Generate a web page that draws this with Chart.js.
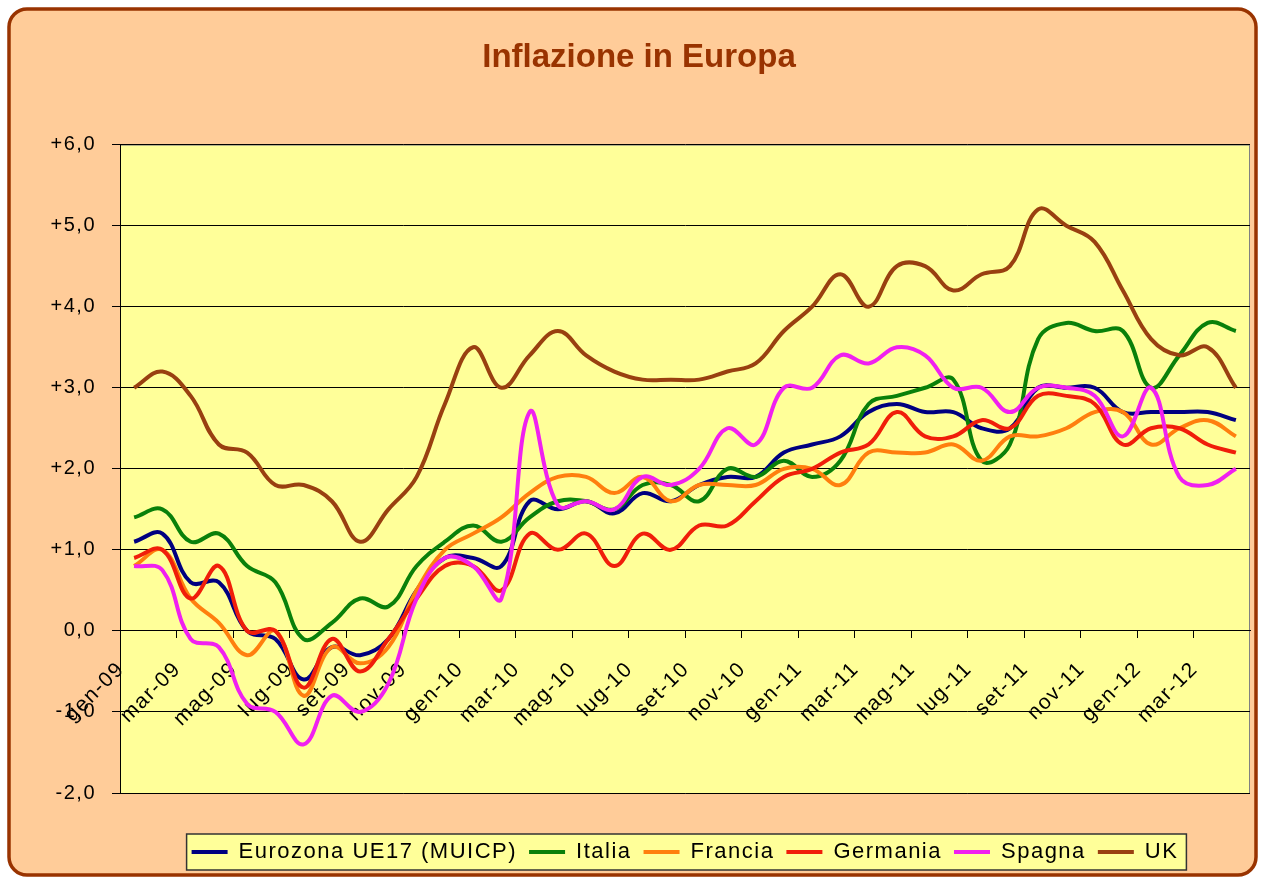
<!DOCTYPE html>
<html>
<head>
    <meta charset="utf-8">
    <title>Inflazione in Europa</title>
    <script src="https://cdn.jsdelivr.net/npm/chart.js@4"></script>
    <style>
        body { margin: 0; background: #fff; }
        canvas { display: block; }
    </style>
</head>
<body>
<canvas id="inflazione" width="1264" height="879"></canvas>

<script>
    // mesi gen-09 .. apr-12
    const mesi = ['gen-09', 'feb-09', 'mar-09', 'apr-09', 'mag-09', 'giu-09', 'lug-09', 'ago-09', 'set-09', 'ott-09', 'nov-09', 'dic-09',
        'gen-10', 'feb-10', 'mar-10', 'apr-10', 'mag-10', 'giu-10', 'lug-10', 'ago-10', 'set-10', 'ott-10', 'nov-10', 'dic-10',
        'gen-11', 'feb-11', 'mar-11', 'apr-11', 'mag-11', 'giu-11', 'lug-11', 'ago-11', 'set-11', 'ott-11', 'nov-11', 'dic-11',
        'gen-12', 'feb-12', 'mar-12', 'apr-12'];

    const eurozona = [1.1, 1.2, 0.6, 0.6, 0.0, -0.1, -0.6, -0.2, -0.3, -0.1, 0.5, 0.9,
        0.9, 0.8, 1.6, 1.5, 1.6, 1.45, 1.7, 1.6, 1.8, 1.9, 1.9, 2.2,
        2.3, 2.4, 2.7, 2.8, 2.7, 2.7, 2.5, 2.5, 3.0, 3.0, 3.0, 2.7,
        2.7, 2.7, 2.7, 2.6];
    const italia = [1.4, 1.5, 1.1, 1.2, 0.8, 0.6, -0.1, 0.1, 0.4, 0.3, 0.8, 1.1,
        1.3, 1.1, 1.4, 1.6, 1.6, 1.5, 1.8, 1.8, 1.6, 2.0, 1.9, 2.1,
        1.9, 2.1, 2.8, 2.9, 3.0, 3.1, 2.1, 2.3, 3.6, 3.8, 3.7, 3.7,
        3.0, 3.4, 3.8, 3.7];
    const francia = [0.8, 1.0, 0.4, 0.1, -0.3, 0.0, -0.8, -0.2, -0.4, -0.2, 0.5, 1.0,
        1.2, 1.4, 1.7, 1.9, 1.9, 1.7, 1.9, 1.6, 1.8, 1.8, 1.8, 2.0,
        2.0, 1.8, 2.2, 2.2, 2.2, 2.3, 2.1, 2.4, 2.4, 2.5, 2.7, 2.7,
        2.3, 2.5, 2.6, 2.4];
    const germania = [0.9, 1.0, 0.4, 0.8, 0.0, 0.0, -0.7, -0.1, -0.5, -0.1, 0.4, 0.8,
        0.8, 0.5, 1.2, 1.0, 1.2, 0.8, 1.2, 1.0, 1.3, 1.3, 1.6, 1.9,
        2.0, 2.2, 2.3, 2.7, 2.4, 2.4, 2.6, 2.5, 2.9, 2.9, 2.8, 2.3,
        2.5, 2.5, 2.3, 2.2];
    const spagna = [0.8, 0.75, -0.1, -0.2, -0.9, -1.0, -1.4, -0.8, -1.0, -0.65, 0.4, 0.9,
        0.8, 0.4, 2.7, 1.55, 1.6, 1.5, 1.9, 1.8, 2.0, 2.5, 2.3, 3.0,
        3.0, 3.4, 3.3, 3.5, 3.4, 3.0, 3.0, 2.7, 3.0, 3.0, 2.9, 2.4,
        3.0, 1.9, 1.8, 2.0];
    const uk = [3.0, 3.2, 2.9, 2.3, 2.2, 1.8, 1.8, 1.6, 1.1, 1.5, 1.9, 2.8,
        3.5, 3.0, 3.4, 3.7, 3.4, 3.2, 3.1, 3.1, 3.1, 3.2, 3.3, 3.7,
        4.0, 4.4, 4.0, 4.5, 4.5, 4.2, 4.4, 4.5, 5.2, 5.0, 4.8, 4.2,
        3.6, 3.4, 3.5, 3.0];

    const serie = [
        {label: 'Eurozona UE17 (MUICP)', data: eurozona, colore: '#000080'},
        {label: 'Italia', data: italia, colore: '#0A800A'},
        {label: 'Francia', data: francia, colore: '#FF7F0E'},
        {label: 'Germania', data: germania, colore: '#F01E0A'},
        {label: 'Spagna', data: spagna, colore: '#F020F0'},
        {label: 'UK', data: uk, colore: '#994010'}
    ];

    const FONT = '"Liberation Sans", Arial, sans-serif';
    Chart.defaults.font.family = FONT;
    Chart.defaults.color = '#000';

    // sfondo in stile Excel: cornice arrotondata, area del grafico gialla, riquadro legenda
    const sfondo = {
        id: 'sfondo',
        beforeUpdate(chart) {
            chart.ctx.letterSpacing = '1.5px';
        },
        afterLayout(chart) {
            // la legenda scende un po' sotto l'area del grafico
            chart.legend.top += 36;
            chart.legend.bottom += 36;
            // il titolo senza spaziatura tra le lettere
            const tb = chart.titleBlock;
            if (tb && !tb._senzaSpazi) {
                const draw = tb.draw.bind(tb);
                tb.draw = function () {
                    chart.ctx.save();
                    chart.ctx.letterSpacing = '0px';
                    draw();
                    chart.ctx.restore();
                };
                tb._senzaSpazi = true;
            }
        },
        beforeDraw(chart) {
            const ctx = chart.ctx;
            const a = chart.chartArea;
            ctx.letterSpacing = '1.5px';
            ctx.save();
            ctx.fillStyle = '#fff';
            ctx.fillRect(0, 0, chart.width, chart.height);

            ctx.beginPath();
            ctx.roundRect(9, 9, 1247, 866, 18);
            ctx.fillStyle = '#FFCC99';
            ctx.fill();
            ctx.lineWidth = 3.5;
            ctx.strokeStyle = '#993300';
            ctx.stroke();

            ctx.fillStyle = '#FFFF99';
            ctx.fillRect(a.left, a.top, a.width, a.height);
            ctx.strokeStyle = '#808080';
            ctx.lineWidth = 1;
            ctx.strokeRect(a.left + 0.5, a.top + 0.5, a.width - 1, a.height);

            const lg = chart.legend;
            const pad = lg.options.labels.padding;
            const w = lg.lineWidths[0];
            const x0 = (lg.left + pad + lg.right - w) / 2;
            const cy = lg.top + pad + 11;
            ctx.fillStyle = '#FFFF99';
            ctx.fillRect(x0 - 5, cy - 18, w - pad + 13, 36);
            ctx.strokeStyle = '#333';
            ctx.lineWidth = 1.5;
            ctx.strokeRect(x0 - 5, cy - 18, w - pad + 13, 36);
            ctx.restore();
        }
    };

    const ctx = document.getElementById('inflazione').getContext('2d');
    const chart = new Chart(ctx, {
        type: 'line',
        data: {
            labels: mesi,
            datasets: serie.map((s, i) => ({
                label: s.label,
                data: s.data,
                borderColor: s.colore,
                backgroundColor: s.colore,
                borderWidth: 4,
                pointRadius: 0,
                tension: 0.4,
                fill: false,
                order: serie.length - i
            }))
        },
        options: {
            responsive: false,
            animation: false,
            layout: {
                padding: {left: 28, right: 14, top: 0, bottom: 42}
            },
            scales: {
                x: {
                    position: {y: 0},
                    offset: true,
                    afterFit: s => {
                        s.paddingLeft = 0;
                        s.paddingRight = 0;
                    },
                    ticks: {
                        autoSkip: false,
                        minRotation: 45,
                        maxRotation: 45,
                        labelOffset: -13,
                        padding: 19,
                        color: '#000',
                        font: {size: 21},
                        callback: function (v, i) {
                            return i % 2 === 0 ? this.getLabelForValue(v) : '';
                        }
                    },
                    grid: {
                        offset: true,
                        drawOnChartArea: false,
                        tickLength: 7,
                        tickColor: c => c.index % 2 === 0 ? '#000' : 'rgba(0,0,0,0)'
                    },
                    border: {color: '#000', width: 1}
                },
                y: {
                    min: -2,
                    max: 6,
                    afterFit: s => {
                        s.width = 92;
                    },
                    ticks: {
                        stepSize: 1,
                        padding: 16,
                        color: '#000',
                        font: {size: 20},
                        callback: v => (v > 0 ? '+' : '') + v.toFixed(1).replace('.', ',')
                    },
                    grid: {color: '#000', lineWidth: 1, tickLength: 8, tickColor: '#000'},
                    border: {color: '#000', width: 1}
                }
            },
            plugins: {
                title: {
                    display: true,
                    text: 'Inflazione in Europa',
                    color: '#993300',
                    font: {size: 33, weight: 'bold'},
                    padding: {top: 38, bottom: 67}
                },
                legend: {
                    position: 'bottom',
                    fullSize: false,
                    labels: {
                        usePointStyle: true,
                        pointStyle: 'line',
                        pointStyleWidth: 36,
                        padding: 12,
                        color: '#000',
                        font: {size: 22},
                        sort: (a, b) => a.datasetIndex - b.datasetIndex
                    }
                },
                tooltip: {enabled: false}
            }
        },
        plugins: [sfondo]
    });
</script>
</body>
</html>
